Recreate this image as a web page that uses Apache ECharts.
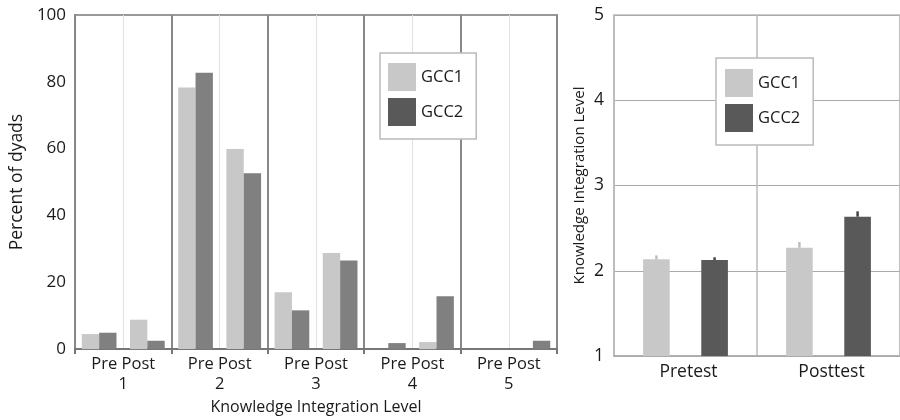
<!DOCTYPE html>
<html>
<head>
<meta charset="utf-8">
<script src="https://cdn.jsdelivr.net/npm/echarts@6/dist/echarts.min.js"></script>
<style>html,body{margin:0;padding:0;background:#fff}#c{width:900px;height:420px}</style>
</head>
<body>
<div id="c"></div>
<script>
// ---- data ----
var phaseLabels = ['Pre', 'Post'];
var levelLabels = ['1', '2', '3', '4', '5'];
var seriesNames = ['GCC1', 'GCC2'];
// percent of dyads, order: Pre1, Post1, Pre2, Post2, ... Pre5, Post5
var gcc1Percent = [4.5, 8.8, 78.3, 59.9, 17.0, 28.8, 0, 2.1, 0, 0];
var gcc2Percent = [4.9, 2.5, 82.7, 52.6, 11.6, 26.5, 1.8, 15.8, 0, 2.5];
var testLabels = ['Pretest', 'Posttest'];
var gcc1Level = [2.134, 2.27];
var gcc2Level = [2.126, 2.634];
var gcc1LevelErr = [2.18, 2.337];
var gcc2LevelErr = [2.158, 2.697];
var percentTicks = { min: 0, max: 100, interval: 20 };
var levelTicks = { min: 1, max: 5, interval: 1 };

// ---- build ----
var subCats = [];
levelLabels.forEach(function (l) { phaseLabels.forEach(function (p) { subCats.push(p + l); }); });

var FONT = '"Open Sans", "DejaVu Sans", sans-serif';
var TXT = '#1a1a1a';
var C1 = '#c8c8c8', C2L = '#808080', C2R = '#595959';
var CAT_GAP = 0.407, BAR_GAP = 1.185;

function errRender(params, api) {
  var idx = api.value(0), low = api.value(1), high = api.value(2), side = api.value(3);
  var band = api.size([1, 0])[0];
  var bw = band * (1 - CAT_GAP) / (2 + BAR_GAP);
  var off = side * bw * (1 + BAR_GAP) / 2;
  var p1 = api.coord([idx, low]);
  var p2 = api.coord([idx, high]);
  return {
    type: 'line',
    shape: { x1: p1[0] + off, y1: p1[1], x2: p2[0] + off, y2: p2[1] },
    style: { stroke: api.visual('color'), lineWidth: 2.5 }
  };
}

var errData1 = testLabels.map(function (t, i) { return [i, gcc1Level[i], gcc1LevelErr[i], -1]; });
var errData2 = testLabels.map(function (t, i) { return [i, gcc2Level[i], gcc2LevelErr[i], 1]; });

var legendCommon = {
  orient: 'vertical', icon: 'rect', itemWidth: 28, itemHeight: 28, itemGap: 7,
  backgroundColor: '#fff', borderColor: '#bbb', borderWidth: 1.5,
  textStyle: { fontFamily: FONT, fontSize: 16.5, color: TXT },
  selectedMode: false, z: 10,
  data: [{ name: seriesNames[0], itemStyle: { color: C1 } }, { name: seriesNames[1], itemStyle: { color: C2R } }]
};

var option = {
  animation: false,
  backgroundColor: '#fff',
  textStyle: { fontFamily: FONT },
  legend: [
    Object.assign({}, legendCommon, { left: 380, top: 53, padding: [10, 13, 13, 8] }),
    Object.assign({}, legendCommon, { left: 716, top: 58, padding: [11, 13, 13, 9] })
  ],
  grid: [
    { left: 72, top: 15, width: 485, height: 341, show: true, borderColor: '#999', borderWidth: 2, backgroundColor: 'transparent' },
    { left: 614, top: 15, width: 290, height: 341, show: true, borderColor: '#bbb', borderWidth: 1.5, backgroundColor: 'transparent' }
  ],
  xAxis: [
    {
      type: 'category', gridIndex: 0, data: subCats,
      axisLine: { show: true, lineStyle: { color: '#777', width: 2 } },
      axisTick: { show: false }, axisLabel: { show: false },
      splitLine: { show: true, interval: 0, lineStyle: { color: '#e2e2e2', width: 1 } }
    },
    {
      type: 'category', gridIndex: 0, data: levelLabels, position: 'bottom',
      axisLine: { show: false },
      axisTick: { show: true, interval: 0, length: 5, lineStyle: { color: '#777', width: 2 } },
      axisLabel: {
        interval: 0, margin: 5, fontSize: 16.5, color: TXT, lineHeight: 20, fontFamily: FONT,
        formatter: function (v) { return phaseLabels.join(' ') + '\n' + v; }
      },
      splitLine: { show: true, interval: 0, lineStyle: { color: '#888', width: 2 } },
      name: 'Knowledge Integration Level', nameLocation: 'middle', nameGap: 44,
      nameTextStyle: { fontSize: 16, color: TXT, fontFamily: FONT }
    },
    {
      type: 'category', gridIndex: 1, data: testLabels,
      axisLine: { show: true, lineStyle: { color: '#aaa', width: 1.5 } },
      axisTick: { show: false },
      axisLabel: { margin: 7, fontSize: 17.5, color: TXT, fontFamily: FONT, padding: [0, 0, 0, 6] },
      splitLine: { show: true, interval: 0, lineStyle: { color: '#bbb', width: 1.5 } }
    }
  ],
  yAxis: [
    {
      type: 'value', gridIndex: 0, min: percentTicks.min, max: percentTicks.max, interval: percentTicks.interval,
      axisLine: { show: true, lineStyle: { color: '#888', width: 2 } },
      axisTick: { show: false }, splitLine: { show: false },
      axisLabel: { margin: 9, fontSize: 17, color: TXT, fontFamily: FONT },
      name: 'Percent of dyads', nameLocation: 'middle', nameGap: 47,
      nameTextStyle: { fontSize: 17.5, color: TXT, fontFamily: FONT }
    },
    {
      type: 'value', gridIndex: 1, min: levelTicks.min, max: levelTicks.max, interval: levelTicks.interval,
      axisLine: { show: true, lineStyle: { color: '#bbb', width: 1.5 } },
      axisTick: { show: false },
      splitLine: { show: true, lineStyle: { color: '#aaa', width: 1.2 } },
      axisLabel: { margin: 10, fontSize: 17.5, color: TXT, fontFamily: FONT },
      name: 'Knowledge Integration Level', nameLocation: 'middle', nameGap: 27,
      nameTextStyle: { fontSize: 15, color: TXT, fontFamily: FONT }
    }
  ],
  series: [
    { name: seriesNames[0], type: 'bar', xAxisIndex: 0, yAxisIndex: 0, data: gcc1Percent, barGap: '0%', barCategoryGap: '28%', itemStyle: { color: C1 } },
    { name: seriesNames[1], type: 'bar', xAxisIndex: 0, yAxisIndex: 0, data: gcc2Percent, barGap: '0%', barCategoryGap: '28%', itemStyle: { color: C2L } },
    { name: seriesNames[0], type: 'bar', xAxisIndex: 2, yAxisIndex: 1, data: gcc1Level, barGap: (BAR_GAP * 100) + '%', barCategoryGap: (CAT_GAP * 100) + '%', itemStyle: { color: C1 } },
    { name: seriesNames[1], type: 'bar', xAxisIndex: 2, yAxisIndex: 1, data: gcc2Level, barGap: (BAR_GAP * 100) + '%', barCategoryGap: (CAT_GAP * 100) + '%', itemStyle: { color: C2R } },
    { name: seriesNames[0], type: 'custom', xAxisIndex: 2, yAxisIndex: 1, data: errData1, renderItem: errRender, itemStyle: { color: '#bdbdbd' }, z: 3 },
    { name: seriesNames[1], type: 'custom', xAxisIndex: 2, yAxisIndex: 1, data: errData2, renderItem: errRender, itemStyle: { color: '#444' }, z: 3 }
  ]
};
var chart = echarts.init(document.getElementById('c'), null, { renderer: 'canvas' });
chart.setOption(option);
</script>
</body>
</html>
